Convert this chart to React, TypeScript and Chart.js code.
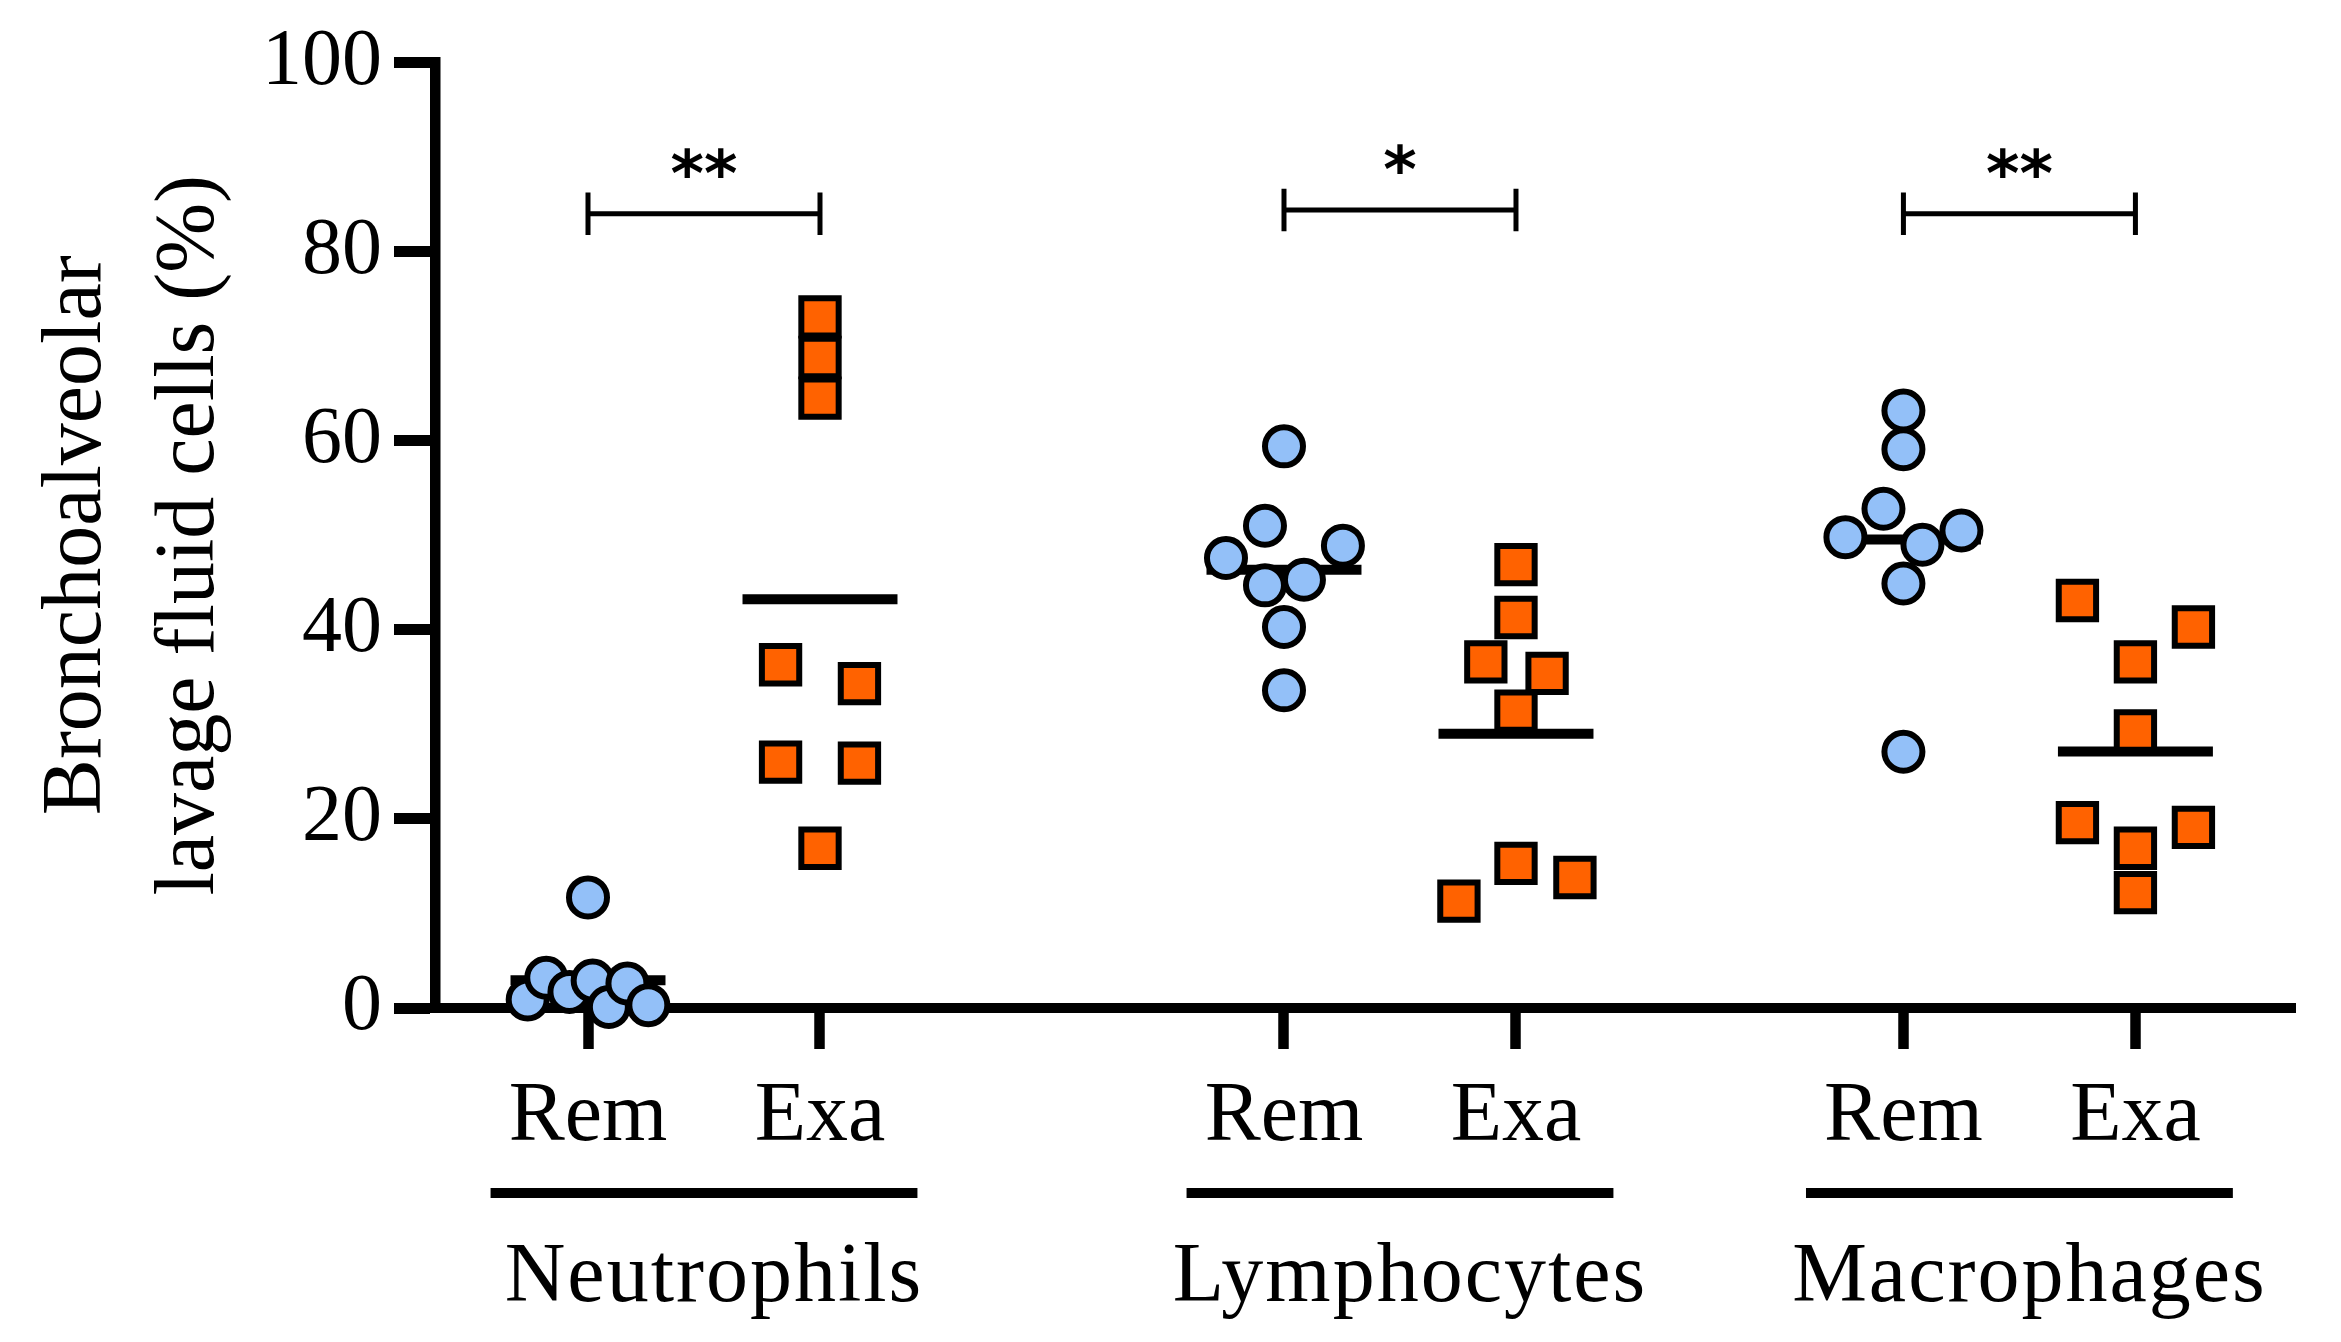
import React, { useEffect, useRef } from 'react';
import { Chart, registerables } from 'chart.js';

Chart.register(...registerables);

// ---- data ----
const groups = ['Neutrophils', 'Lymphocytes', 'Macrophages'];
const tickLabels = ['Rem', 'Exa', 'Rem', 'Exa', 'Rem', 'Exa'];
const positions = [0, 1, 3, 4, 5.67, 6.67];
const yTicks = [0, 20, 40, 60, 80, 100];
const yTitle = ['Bronchoalveolar', 'lavage fluid cells (%)'];

const neutRem = [11.7, 0.9, 3.2, 1.7, 2.9, 0.1, 2.6, 0.3];
const neutRemJitter = [0, -0.26, -0.18, -0.08, 0.02, 0.09, 0.17, 0.26];
const neutExa = [73.1, 68.8, 64.5, 36.3, 34.3, 26.0, 25.9, 16.9];
const neutExaJitter = [0, 0, 0, -0.17, 0.17, -0.17, 0.17, 0];

const lymRem = [59.4, 51.0, 48.9, 47.6, 44.7, 45.3, 40.3, 33.6];
const lymRemJitter = [0, -0.082, 0.254, -0.25, -0.082, 0.086, 0, 0];
const lymExa = [46.9, 41.3, 36.6, 35.4, 31.4, 15.3, 13.8, 11.3];
const lymExaJitter = [0, 0, -0.13, 0.134, 0, 0, 0.254, -0.246];

const macRem = [63.2, 59.1, 52.8, 49.8, 50.5, 49.0, 44.9, 27.1];
const macRemJitter = [0, 0, -0.086, -0.25, 0.25, 0.082, 0, 0];
const macExa = [43.1, 40.3, 36.6, 29.3, 19.6, 19.1, 16.9, 12.2];
const macExaJitter = [-0.25, 0.25, 0, 0, -0.25, 0.25, 0, 0];

const significance = ['**', '*', '**'];
const bracketY = [84, 84.4, 84];

// ---- styles ----
const BLUE = '#93C0F8';
const ORANGE = '#FF6200';
const SERIF = "'Liberation Serif', 'Times New Roman', serif";

const seriesValues = [neutRem, neutExa, lymRem, lymExa, macRem, macExa];
const seriesJitter = [neutRemJitter, neutExaJitter, lymRemJitter, lymExaJitter, macRemJitter, macExaJitter];

const mean = (a: number[]) => a.reduce((s, v) => s + v, 0) / a.length;

const annotatePlugin = {
  id: 'annotate',
  afterDraw(chart: any) {
    const { ctx, chartArea, scales } = chart;
    const x = scales.x;
    const y = scales.y;
    ctx.save();
    ctx.fillStyle = '#000';
    ctx.strokeStyle = '#000';
    groups.forEach((g, i) => {
      const x1 = positions[2 * i];
      const x2 = positions[2 * i + 1];
      const cx = x.getPixelForValue((x1 + x2) / 2);
      // significance stars
      ctx.font = "bold 64px 'DejaVu Sans', sans-serif";
      ctx.textAlign = 'center';
      ctx.textBaseline = 'alphabetic';
      (ctx as any).letterSpacing = '0px';
      ctx.fillText(significance[i], cx, y.getPixelForValue(bracketY[i]) - 18);
      // group underline
      const ly = chartArea.bottom + 185;
      ctx.lineWidth = 10;
      ctx.lineCap = 'butt';
      ctx.beginPath();
      ctx.moveTo(x.getPixelForValue(x1 - 0.42), ly);
      ctx.lineTo(x.getPixelForValue(x2 + 0.42), ly);
      ctx.stroke();
      // group label
      ctx.font = `84px ${SERIF}`;
      (ctx as any).letterSpacing = '2px';
      ctx.fillText(g, cx + 10, chartArea.bottom + 293);
    });
    ctx.restore();
  },
};

export default function App() {
  const ref = useRef<HTMLCanvasElement | null>(null);

  useEffect(() => {
    if (!ref.current) return;

    const pointSets = seriesValues.map((vals, i) => {
      const isRem = i % 2 === 0;
      return {
        label: tickLabels[i] + ' ' + groups[Math.floor(i / 2)],
        data: vals.map((v, j) => ({ x: positions[i] + seriesJitter[i][j], y: v })),
        showLine: false,
        pointStyle: isRem ? 'circle' : 'rect',
        pointRadius: isRem ? 19 : 26.4,
        pointBackgroundColor: isRem ? BLUE : ORANGE,
        pointBorderColor: '#000',
        pointBorderWidth: 6,
        pointHoverRadius: isRem ? 19 : 26.4,
        clip: false,
        order: 0,
      };
    });

    const meanSets = seriesValues.map((vals, i) => {
      const m = mean(vals);
      return {
        label: 'mean ' + i,
        data: [
          { x: positions[i] - 0.334, y: m },
          { x: positions[i] + 0.334, y: m },
        ],
        showLine: true,
        borderColor: '#000',
        borderWidth: 10,
        borderCapStyle: 'butt',
        pointRadius: 0,
        clip: false,
        order: 2,
      };
    });

    const bracketSets = groups.map((g, i) => {
      const a = positions[2 * i];
      const b = positions[2 * i + 1];
      const yb = bracketY[i];
      return {
        label: 'bracket ' + g,
        data: [
          { x: a, y: yb + 2.25 },
          { x: a, y: yb - 2.25 },
          { x: a, y: null },
          { x: a, y: yb },
          { x: b, y: yb },
          { x: b, y: null },
          { x: b, y: yb + 2.25 },
          { x: b, y: yb - 2.25 },
        ],
        showLine: true,
        spanGaps: false,
        borderColor: '#000',
        borderWidth: 5,
        borderCapStyle: 'butt',
        pointRadius: 0,
        clip: false,
        order: 1,
      };
    });

    const chart = new Chart(ref.current, {
      type: 'scatter',
      data: { datasets: [...pointSets, ...meanSets, ...bracketSets] as any },
      options: {
        animation: false,
        responsive: false,
        devicePixelRatio: 1,
        events: [],
        layout: { padding: { left: 0, right: 45.5, top: 62.5, bottom: 0 } },
        plugins: {
          legend: { display: false },
          tooltip: { enabled: false },
        },
        scales: {
          x: {
            type: 'linear',
            min: -0.6595,
            max: 7.36,
            afterFit: (s: any) => { s.height = 334; },
            afterBuildTicks: (s: any) => { s.ticks = positions.map((v) => ({ value: v })); },
            border: { display: true, color: '#000', width: 10 },
            grid: { display: true, drawOnChartArea: false, drawTicks: true, tickLength: 41, tickWidth: 10.5, tickColor: '#000', lineWidth: 1 },
            ticks: {
              autoSkip: false,
              maxRotation: 0,
              minRotation: 0,
              padding: 19,
              color: '#000',
              font: { family: SERIF, size: 84, lineHeight: 1.2 },
              callback: (_v: any, idx: number) => tickLabels[idx],
            },
          },
          y: {
            type: 'linear',
            min: 0,
            max: 100,
            afterFit: (s: any) => { s.width = 435; },
            afterBuildTicks: (s: any) => { s.ticks = yTicks.map((v) => ({ value: v })); },
            border: { display: true, color: '#000', width: 10.5 },
            grid: { display: true, drawOnChartArea: false, drawTicks: true, tickLength: 41, tickWidth: 11, tickColor: '#000', lineWidth: 1 },
            ticks: {
              padding: 12,
              color: '#000',
              font: { family: SERIF, size: 80 },
              callback: (v: any) => String(v),
            },
            title: {
              display: true,
              text: yTitle,
              color: '#000',
              font: { family: SERIF, size: 84, lineHeight: 113 / 84 },
              padding: { top: 21.5, bottom: 0 },
            },
          },
        },
      },
      plugins: [annotatePlugin],
    } as any);

    return () => chart.destroy();
  }, []);

  return (
    <div style={{ position: 'absolute', left: 0, top: 0, width: 2341, height: 1342, background: '#fff' }}>
      <canvas ref={ref} width={2341} height={1342} style={{ display: 'block', width: 2341, height: 1342 }} />
    </div>
  );
}
